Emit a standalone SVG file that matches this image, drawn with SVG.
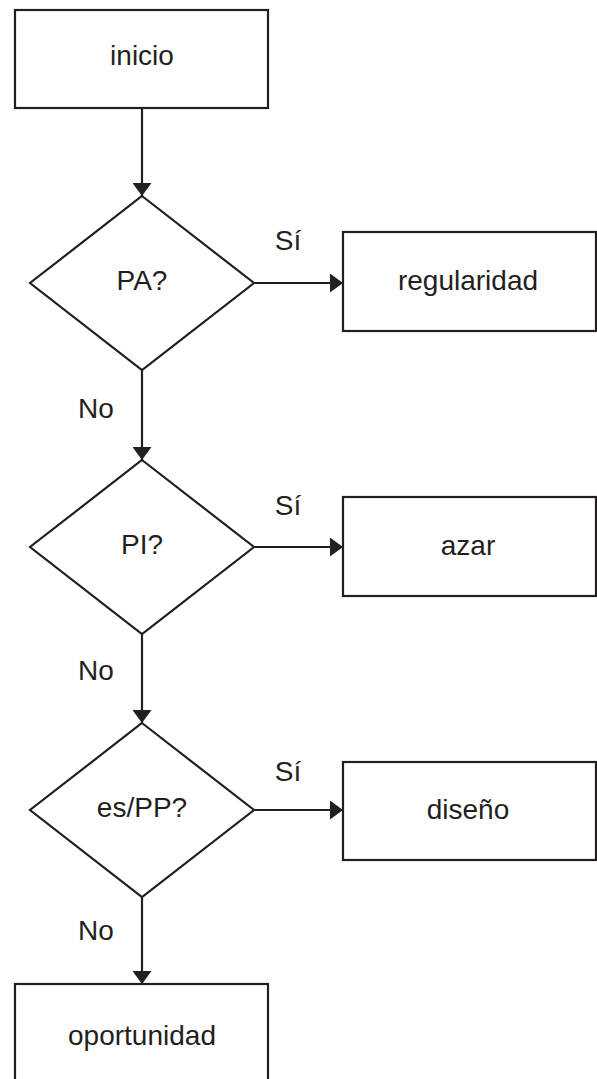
<svg xmlns="http://www.w3.org/2000/svg" width="597" height="1079" viewBox="0 0 597 1079">
<style>
.shape{fill:#fff;stroke:#231f20;stroke-width:2.2}
.line{stroke:#231f20;stroke-width:2.2;fill:none}
text{font-family:"Liberation Sans",Arial,sans-serif;font-size:28px;fill:#231f20;text-anchor:middle}
</style>
<defs>
<marker id="arr" markerUnits="userSpaceOnUse" markerWidth="13" markerHeight="19" refX="13" refY="9.5" orient="auto">
<path d="M0,0 L13,9.5 L0,19 Z" fill="#231f20"/>
</marker>
</defs>
<rect width="597" height="1079" fill="#fff"/>
<g id="connectors">
<line class="line" x1="142" y1="108" x2="142" y2="196" marker-end="url(#arr)"/>
<line class="line" x1="254" y1="283" x2="343" y2="283" marker-end="url(#arr)"/>
<line class="line" x1="142" y1="370" x2="142" y2="460" marker-end="url(#arr)"/>
<line class="line" x1="254" y1="547" x2="343" y2="547" marker-end="url(#arr)"/>
<line class="line" x1="142" y1="634" x2="142" y2="723" marker-end="url(#arr)"/>
<line class="line" x1="254" y1="810" x2="343" y2="810" marker-end="url(#arr)"/>
<line class="line" x1="142" y1="897" x2="142" y2="984" marker-end="url(#arr)"/>
<text x="288" y="250">Sí</text>
<text x="96" y="418">No</text>
<text x="288" y="515">Sí</text>
<text x="96" y="680">No</text>
<text x="288" y="781">Sí</text>
<text x="96" y="940">No</text>
</g>
<g id="inicio">
<rect class="shape" x="15" y="10" width="253" height="98"/>
<text x="142" y="65">inicio</text>
</g>
<g id="pa">
<polygon class="shape" points="142,196 254,283 142,370 30,283"/>
<text x="142" y="290">PA?</text>
</g>
<g id="regularidad">
<rect class="shape" x="343" y="232" width="253" height="99"/>
<text x="468" y="290">regularidad</text>
</g>
<g id="pi">
<polygon class="shape" points="142,460 254,547 142,634 30,547"/>
<text x="142" y="554">PI?</text>
</g>
<g id="azar">
<rect class="shape" x="343" y="497" width="253" height="99"/>
<text x="468" y="555">azar</text>
</g>
<g id="espp">
<polygon class="shape" points="142,723 254,810 142,897 30,810"/>
<text x="142" y="817">es/PP?</text>
</g>
<g id="diseno">
<rect class="shape" x="343" y="762" width="253" height="98"/>
<text x="468" y="819">diseño</text>
</g>
<g id="oportunidad">
<rect class="shape" x="15" y="984" width="253" height="110"/>
<text x="142" y="1045">oportunidad</text>
</g>
</svg>
